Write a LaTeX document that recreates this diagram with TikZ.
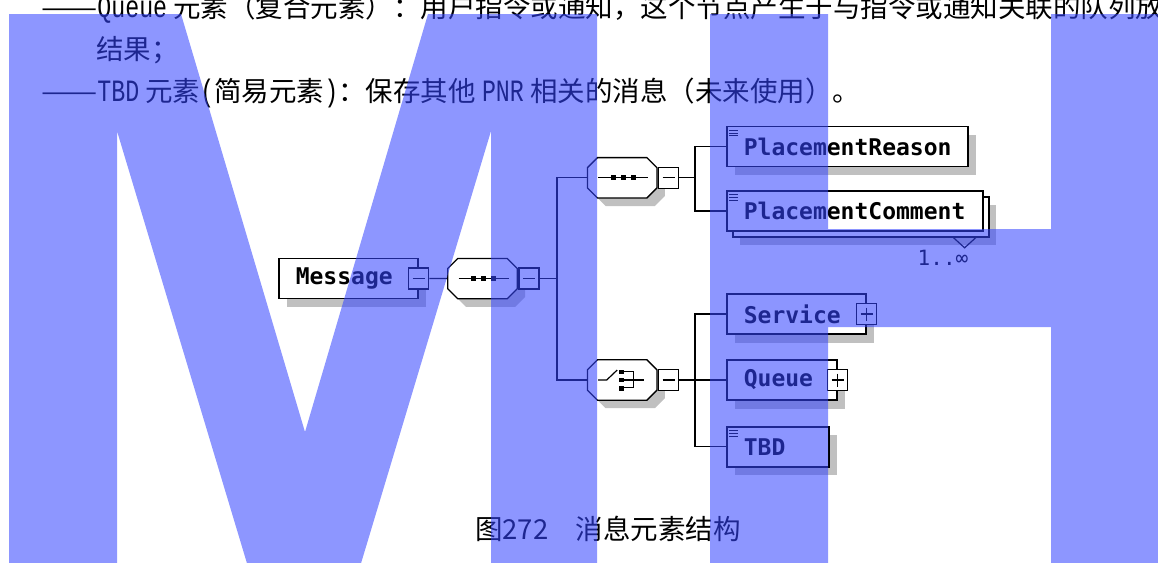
\documentclass[tikz,border=0pt]{standalone}
\usepackage{fontspec}
\usepackage{tikz}
\usetikzlibrary{shadows}
\newfontfamily\cjkfont{Noto Sans CJK SC}
\newfontfamily\latfont{Liberation Mono}[FakeStretch=0.75]
\newfontfamily\elemfont{DejaVu Sans Mono}
\definecolor{shade}{RGB}{192,192,192}
\definecolor{wmblue}{RGB}{53,69,255}
\newcommand{\lat}[1]{{\latfont\fontsize{31}{31}\selectfont #1}}
\newcommand{\dashes}{\scalebox{1.22}[1]{——}}
\tikzset{
  basebox/.style={draw, line width=1.6pt, fill=white, anchor=west, minimum height=40pt, inner xsep=17pt, inner ysep=0pt, text width=#1, align=left, font=\elemfont\bfseries\fontsize{23}{23}\selectfont},
  elem/.style={basebox=#1, drop shadow={shadow xshift=8.5pt, shadow yshift=-8.5pt, fill=shade, opacity=1}},
  expbox/.style={draw, fill=white, line width=1.3pt, minimum width=20pt, minimum height=21pt, inner sep=0pt},
  expminus/.style={expbox, path picture={\draw[line width=1.2pt] ([xshift=4pt]path picture bounding box.west) -- ([xshift=-4pt]path picture bounding box.east);}},
  expplus/.style={expbox, path picture={\draw[line width=1.2pt] ([xshift=4pt]path picture bounding box.west) -- ([xshift=-4pt]path picture bounding box.east) ([yshift=-4pt]path picture bounding box.north) -- ([yshift=4pt]path picture bounding box.south);}},
  comp/.style={minimum width=69pt, minimum height=40pt, inner sep=0pt},
  compline/.style={draw, fill=white, line width=1.3pt, drop shadow={shadow xshift=8pt, shadow yshift=-8pt, fill=shade, opacity=1}},
  conn/.style={line width=1.2pt},
  txt/.style={anchor=base west, inner sep=0pt, font=\cjkfont\fontsize{27.5}{27.5}\selectfont},
  wm/.style={fill=wmblue, fill opacity=0.565}
}
\newcommand{\compframe}[1]{%
  \filldraw[compline] ([xshift=10pt]#1.north west) -- ([xshift=-10pt]#1.north east) -- ([yshift=-10pt]#1.north east)
    -- ([yshift=10pt]#1.south east) -- ([xshift=-10pt]#1.south east) -- ([xshift=10pt]#1.south west)
    -- ([yshift=10pt]#1.south west) -- ([yshift=-10pt]#1.north west) -- cycle;}
\newcommand{\seqmark}[1]{%
  \draw[conn] ([xshift=-24pt]#1.center) -- ([xshift=26pt]#1.center);
  \foreach \dx in {-9,1,11} \fill ([xshift=\dx pt]#1.center) +(-2.6pt,-2.6pt) rectangle +(2.6pt,2.6pt);}
\newcommand{\choicemark}[1]{%
  \draw[conn] ([xshift=-24pt]#1.center) -- ([xshift=-15.5pt]#1.center) -- ([shift={(-5pt,10pt)}]#1.center);
  \foreach \dy in {8,0,-8.3} \fill ([shift={(-0.5pt,\dy pt)}]#1.center) +(-2.5pt,-2.2pt) rectangle +(2.5pt,2.2pt);
  \draw[conn] ([shift={(2pt,8.3pt)}]#1.center) -| ([shift={(11pt,-7.7pt)}]#1.center) -- ([shift={(2pt,-7.7pt)}]#1.center);
  \draw[conn] ([xshift=2pt]#1.center) -- ([xshift=22pt]#1.center);}
\newcommand{\docmark}[1]{%
  \foreach \dy in {4.5,7.3,10.1} \draw[line width=0.9pt] ([shift={(3pt,-\dy pt)}]#1.north west) -- ++(9pt,0pt);}

\begin{document}
\begin{tikzpicture}[x=1pt,y=-1pt]
\useasboundingbox (0,0) rectangle (1158,562);
\clip (0,0) rectangle (1158,562);

\node[txt] (line1) at (41,17.5) {\dashes\lat{Queue} 元素（复合元素）：用户指令或通知，这个节点产生于与指令或通知关联的队列放};
\node[txt] (line2) at (96,59.5) {结果；};
\node[txt] (line3) at (41,101.5) {\dashes\lat{TBD} 元素\lat{(}简易元素\lat{)}：保存其他 \lat{PNR} 相关的消息（未来使用）。};

\node[elem=105pt] (msg) at (278,278.5) {Message};
\node[expminus] (msgx) at (msg.east) {};

\node[comp] (seqmain) at (482.5,278.6) {};
\compframe{seqmain}
\seqmark{seqmain}
\node[expminus, anchor=west] (seqmainx) at ([xshift=1pt]seqmain.east) {};

\node[comp] (seqsub) at (622.2,177.8) {};
\compframe{seqsub}
\seqmark{seqsub}
\node[expminus, anchor=west] (seqsubx) at ([xshift=1pt]seqsub.east) {};

\node[comp] (choice) at (622.2,380) {};
\compframe{choice}
\choicemark{choice}
\node[expminus, anchor=west] (choicex) at ([xshift=1pt]choice.east) {};

\node[elem=207pt] (reason) at (726,146.5) {PlacementReason};
\docmark{reason}
\node[basebox=222pt, drop shadow={shadow xshift=13pt, shadow yshift=-14pt, fill=shade, opacity=1},
  copy shadow={shadow xshift=6pt, shadow yshift=-6pt, draw=black, fill=white, line width=1.6pt}] (comment) at (726,211) {PlacementComment};
\docmark{comment}
\draw[conn] ([shift={(-30pt,-6pt)}]comment.south east) -- ++(11pt,-10pt) -- ++(11pt,10pt);
\node[inner sep=0pt, font=\elemfont\fontsize{21}{21}\selectfont] (mult) at (943,258) {1..∞};

\node[elem=105pt] (service) at (726,314) {Service};
\node[expplus] (servicex) at (service.east) {};
\node[elem=76pt] (queue) at (726,380) {Queue};
\node[expplus] (queuex) at (queue.east) {};
\node[elem=68pt] (tbd) at (726,446.7) {TBD};
\docmark{tbd}

\coordinate (bus1) at (557,278.6);
\coordinate (bus2) at (695,177.8);
\coordinate (bus3) at (695,380);
\draw[conn] (msgx.east) -- (seqmain.west);
\draw[conn] (seqmainx.east) -- (bus1);
\draw[conn] (seqsub.west) -| (bus1) |- (choice.west);
\draw[conn] (seqsubx.east) -- (bus2);
\draw[conn] (reason.west) -| (bus2) |- (comment.west);
\draw[conn] (choicex.east) -- (queue.west);
\draw[conn] (service.west) -| (bus3) |- (tbd.west);

\node[txt] (caption) at (475,539) {图272　消息元素结构};

\fill[wm] (9,14) -- (181,14) -- (305,432) -- (428,14) -- (597,14) -- (597,570) -- (491,570) -- (491,131)
  -- (359,570) -- (249,570) -- (117,131) -- (117,570) -- (9,570) -- cycle;
\fill[wm] (710,14) -- (828,14) -- (828,229) -- (1051,229) -- (1051,14) -- (1170,14) -- (1170,570)
  -- (1051,570) -- (1051,327) -- (828,327) -- (828,570) -- (710,570) -- cycle;
\end{tikzpicture}
\end{document}
